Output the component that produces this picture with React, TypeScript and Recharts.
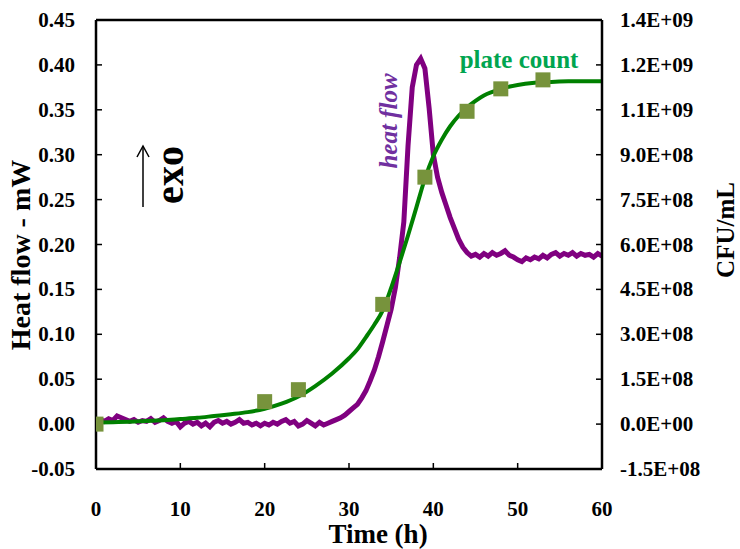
import * as React from 'react';
import {
  ComposedChart, Line, Scatter, XAxis, YAxis, ReferenceLine,
} from 'recharts';

// heat flow (mW), sampled every 0.5 h from 0 to 60 h
const heatFlow = [
  0.004, 0.005, 0.003, 0.006, 0.004, 0.009, 0.007, 0.005, 0.003, 0.005,
  0.002, 0.004, 0.003, 0.006, 0.002, 0.004, 0.007, 0.003, 0.001, 0.003,
  -0.003, 0.001, 0.003, 0.000, 0.002, -0.002, 0.001, -0.003, 0.002, 0.004,
  0.001, 0.003, 0.000, 0.002, 0.005, 0.001, 0.002, -0.001, 0.001, -0.002,
  0.001, -0.001, 0.002, 0.000, 0.003, 0.005, 0.001, 0.003, -0.002, 0.000,
  0.004, 0.001, -0.002, 0.002, -0.001, 0.001, 0.003, 0.005, 0.007, 0.010,
  0.014, 0.018, 0.022, 0.029, 0.037, 0.048, 0.060, 0.075, 0.092, 0.110,
  0.128, 0.152, 0.185, 0.225, 0.310, 0.375, 0.400, 0.407, 0.396, 0.352,
  0.300, 0.275, 0.258, 0.244, 0.230, 0.218, 0.206, 0.197, 0.191, 0.187,
  0.189, 0.186, 0.190, 0.187, 0.191, 0.188, 0.190, 0.193, 0.188, 0.186,
  0.183, 0.181, 0.185, 0.183, 0.186, 0.184, 0.188, 0.185, 0.189, 0.191,
  0.187, 0.190, 0.188, 0.191, 0.187, 0.190, 0.188, 0.189, 0.186, 0.190,
  0.187,
];

// fitted plate count curve (CFU/mL)
const fitTimes = [0, 2, 4, 6, 8, 10, 12, 14, 16, 18, 20, 22, 24, 26, 28, 30, 31, 32, 33, 34, 35, 36, 37, 38, 39, 40, 41, 42, 43, 44, 45, 46, 47, 48, 50, 52, 54, 56, 58, 60];
const fitCfu = [
  5e6, 6.5e6, 8e6, 1.0e7, 1.3e7, 1.7e7, 2.1e7, 2.7e7, 3.3e7, 4.0e7,
  5.1e7, 6.8e7, 9.2e7, 1.27e8, 1.69e8, 2.2e8, 2.5e8, 2.9e8, 3.32e8, 3.8e8,
  4.55e8, 5.4e8, 6.3e8, 7.25e8, 8.2e8, 8.95e8, 9.5e8, 9.95e8, 1.03e9, 1.058e9,
  1.08e9, 1.098e9, 1.11e9, 1.12e9, 1.133e9, 1.14e9, 1.143e9, 1.145e9, 1.145e9, 1.145e9,
];

// measured plate counts (CFU/mL)
const countTimes = [0, 20, 24, 34, 39, 44, 48, 53];
const countCfu = [0, 7.5e7, 1.15e8, 4.0e8, 8.25e8, 1.045e9, 1.12e9, 1.15e9];

const timeTicks = [0, 10, 20, 30, 40, 50, 60];
const heatTicks = [-0.05, 0, 0.05, 0.1, 0.15, 0.2, 0.25, 0.3, 0.35, 0.4, 0.45];
const cfuTicks = [-1.5e8, 0, 1.5e8, 3e8, 4.5e8, 6e8, 7.5e8, 9e8, 1.05e9, 1.2e9, 1.35e9];

const heatData = heatFlow.map((v, i) => ({ t: i * 0.5, heat: v }));
const fitData = fitTimes.map((t, i) => ({ t, cfu: fitCfu[i] }));
const countData = countTimes.map((t, i) => ({ t, cfu: countCfu[i] }));

const FONT = '"Liberation Serif", "Times New Roman", serif';

function formatSci(v: number): string {
  if (v === 0) return '0.0E+00';
  const exp = Math.floor(Math.log10(Math.abs(v)));
  const m = (v / Math.pow(10, exp)).toFixed(1);
  return `${m}E${exp < 0 ? '-' : '+'}${String(Math.abs(exp)).padStart(2, '0')}`;
}

// tick text drawn by hand so the serif font sticks
function makeTick(anchor: 'start' | 'middle' | 'end', dy: number, fmt: (v: number) => string) {
  return (props: any) => {
    const { x, y, payload } = props;
    return (
      <text x={x} y={y + dy} textAnchor={anchor} fontFamily={FONT} fontWeight={700} fontSize={21} fill="#000">
        {fmt(payload.value)}
      </text>
    );
  };
}

const XTick = makeTick('middle', 15, (v) => String(v));
const LeftTick = makeTick('end', 7, (v) => v.toFixed(2));
const RightTick = makeTick('start', 7, formatSci);

const Square = (props: any) => {
  const { cx, cy } = props;
  return <rect x={cx - 7.5} y={cy - 7.5} width={15} height={15} fill="#77933C" />;
};

export default function App() {
  return (
    <div style={{ position: 'absolute', left: 0, top: 0, width: 740, height: 549, background: '#fff' }}>
      <ComposedChart width={740} height={549} margin={{ top: 20, right: 0, bottom: 0, left: 0 }}>
        <XAxis
          type="number"
          dataKey="t"
          domain={[0, 60]}
          ticks={timeTicks}
          allowDataOverflow
          height={80}
          tick={<XTick />}
          tickSize={-6}
          tickMargin={38}
          axisLine={{ stroke: '#000', strokeWidth: 2.5 }}
          tickLine={{ stroke: '#000', strokeWidth: 1.5 }}
        />
        <YAxis
          yAxisId="left"
          type="number"
          domain={[-0.05, 0.45]}
          ticks={heatTicks}
          allowDataOverflow
          width={96}
          tick={<LeftTick />}
          tickSize={-6}
          tickMargin={27}
          axisLine={{ stroke: '#000', strokeWidth: 2.5 }}
          tickLine={{ stroke: '#000', strokeWidth: 1.5 }}
        />
        <YAxis
          yAxisId="right"
          orientation="right"
          type="number"
          domain={[-1.5e8, 1.35e9]}
          ticks={cfuTicks}
          allowDataOverflow
          width={138}
          tick={<RightTick />}
          tickSize={-6}
          tickMargin={24}
          axisLine={{ stroke: '#000', strokeWidth: 2.5 }}
          tickLine={{ stroke: '#000', strokeWidth: 1.5 }}
        />
        <ReferenceLine yAxisId="left" y={0.45} stroke="#000" strokeWidth={2.5} ifOverflow="visible" />
        <Line
          yAxisId="left"
          data={heatData}
          dataKey="heat"
          type="linear"
          stroke="#800080"
          strokeWidth={5}
          dot={false}
          isAnimationActive={false}
        />
        <Line
          yAxisId="right"
          data={fitData}
          dataKey="cfu"
          type="monotone"
          stroke="#008000"
          strokeWidth={4}
          dot={false}
          isAnimationActive={false}
        />
        <Scatter
          yAxisId="right"
          data={countData}
          dataKey="cfu"
          shape={<Square />}
          isAnimationActive={false}
        />
      </ComposedChart>
      <svg width={740} height={549} style={{ position: 'absolute', left: 0, top: 0, pointerEvents: 'none' }}>
        <g fontFamily={FONT} fontWeight={700}>
          <text x={378} y={543} textAnchor="middle" fontSize={27}>Time (h)</text>
          <text transform="translate(30,255) rotate(-90)" textAnchor="middle" fontSize={28}>Heat flow - mW</text>
          <text transform="translate(734,230) rotate(-90)" textAnchor="middle" fontSize={25}>CFU/mL</text>
          <text transform="translate(183,175) rotate(-90)" textAnchor="middle" fontSize={40}>exo</text>
          <text transform="translate(397,121) rotate(-90)" textAnchor="middle" fontSize={25} fontStyle="italic" fill="#7030A0">heat flow</text>
          <text x={519} y={68} textAnchor="middle" fontSize={25} fill="#00A550">plate count</text>
        </g>
        <line x1={143} y1={207} x2={143} y2={146} stroke="#000" strokeWidth={1.5} />
        <polyline points="137,157 143,146 149,157" fill="none" stroke="#000" strokeWidth={1.5} />
      </svg>
    </div>
  );
}
